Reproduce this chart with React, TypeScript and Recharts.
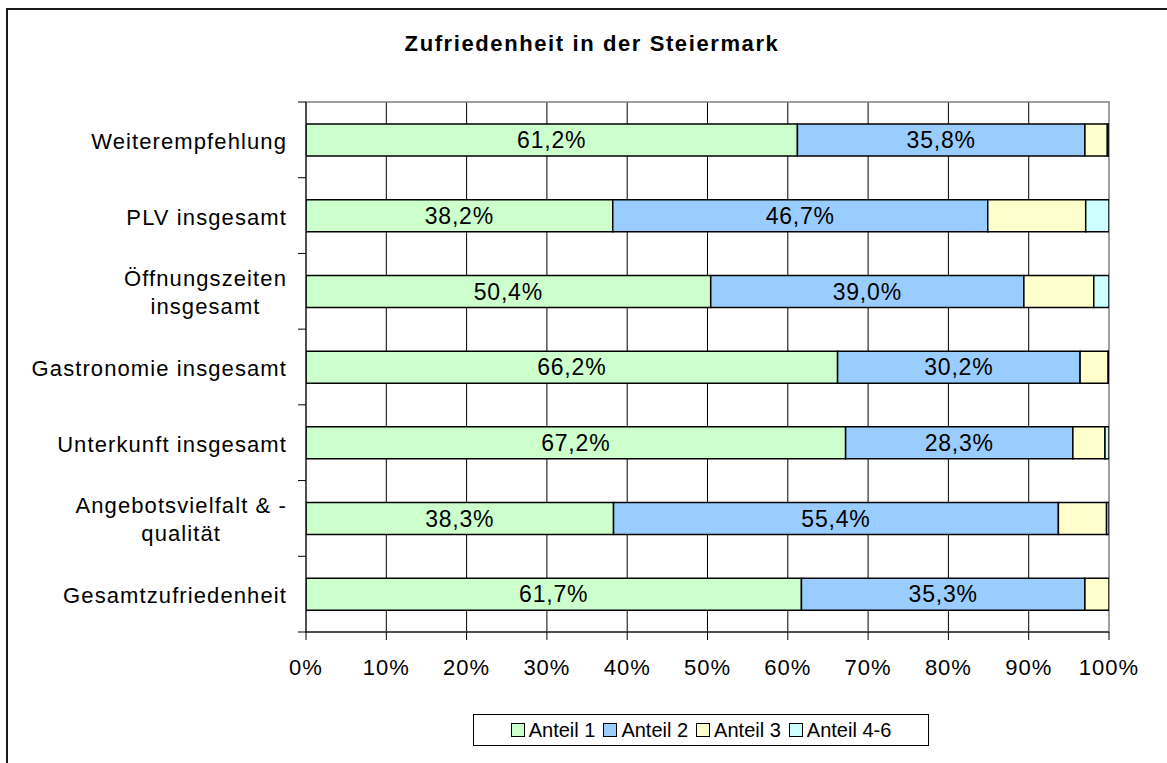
import { Bar, BarChart, CartesianGrid, LabelList, ReferenceArea, XAxis, YAxis } from 'recharts';

const categories = [
  'Weiterempfehlung',
  'PLV insgesamt',
  'Öffnungszeiten\ninsgesamt',
  'Gastronomie insgesamt',
  'Unterkunft insgesamt',
  'Angebotsvielfalt & -\nqualität',
  'Gesamtzufriedenheit',
];
const anteil1 = [61.2, 38.2, 50.4, 66.2, 67.2, 38.3, 61.7];
const anteil2 = [35.8, 46.7, 39.0, 30.2, 28.3, 55.4, 35.3];
const anteil3 = [2.8, 12.2, 8.7, 3.5, 4.0, 6.0, 3.0];
const anteil46 = [0.2, 2.9, 1.9, 0.1, 0.5, 0.3, 0.0];
const xTicks = [0, 10, 20, 30, 40, 50, 60, 70, 80, 90, 100];

const seriesNames = ['Anteil 1', 'Anteil 2', 'Anteil 3', 'Anteil 4-6'];
const seriesColors = ['#ccffcc', '#99ccff', '#ffffcc', '#ccffff'];

const data = categories.map((name, i) => ({
  name,
  a1: anteil1[i],
  a2: anteil2[i],
  a3: anteil3[i],
  a4: anteil46[i],
}));

const FONT = '"Liberation Sans", Arial, sans-serif';
const W = 1167;
const H = 763;
const TOP = 102;
const BOTTOM_AXIS = 632;
const AXIS_X = 306;
const BAND = (BOTTOM_AXIS - TOP) / categories.length;

const pct = (v: number) => v.toFixed(1).replace('.', ',') + '%';

function CategoryTick(props: any) {
  const { y, payload, index } = props;
  const lines = String(payload.value).split('\n');
  return (
    <g>
      <line x1={AXIS_X - 8} x2={AXIS_X} y1={y - BAND / 2} y2={y - BAND / 2} stroke="#000" />
      {index === categories.length - 1 && (
        <line x1={AXIS_X - 8} x2={AXIS_X} y1={y + BAND / 2} y2={y + BAND / 2} stroke="#000" />
      )}
      <foreignObject x={0} y={y - 33} width={287} height={70}>
        <div
          style={{
            height: 70,
            display: 'flex',
            alignItems: 'center',
            justifyContent: 'flex-end',
            fontFamily: FONT,
            fontSize: 22,
            letterSpacing: 1.1,
            color: '#000',
          }}
        >
          <div style={{ textAlign: 'center', lineHeight: '28px', whiteSpace: 'nowrap' }}>
            {lines.map((l, i) => (
              <div key={i}>{l}</div>
            ))}
          </div>
        </div>
      </foreignObject>
    </g>
  );
}

export default function App() {
  return (
    <div style={{ position: 'absolute', left: 0, top: 0, width: W, height: H, overflow: 'hidden', background: '#fff', fontFamily: FONT }}>
      <div style={{ position: 'absolute', left: 6, top: 8, width: W + 20, height: H + 20, border: '2px solid #1a1a1a' }} />
      <div
        style={{
          position: 'absolute',
          left: 0,
          width: 1184,
          top: 30,
          textAlign: 'center',
          fontSize: 22,
          fontWeight: 'bold',
          letterSpacing: 1.6,
          lineHeight: '28px',
        }}
      >
        Zufriedenheit in der Steiermark
      </div>
      <div style={{ position: 'absolute', left: 0, top: 0 }}>
        <BarChart
          width={W}
          height={H}
          data={data}
          layout="vertical"
          margin={{ top: TOP, right: W - 1109, bottom: H - BOTTOM_AXIS - 40, left: 0 }}
          barSize={32}
        >
          <ReferenceArea x1={0} x2={100} fill="none" stroke="#808080" strokeWidth={1.5} ifOverflow="visible" />
          <CartesianGrid vertical horizontal={false} stroke="#000" strokeWidth={1} verticalValues={[10, 20, 30, 40, 50, 60, 70, 80, 90]} />
          <XAxis
            type="number"
            domain={[0, 100]}
            ticks={xTicks}
            tickFormatter={(v: number) => v + '%'}
            axisLine={{ stroke: '#000', strokeWidth: 1 }}
            tickLine={{ stroke: '#000' }}
            tickSize={8}
            tickMargin={19}
            height={40}
            tick={{ fill: '#000', fontSize: 22, fontFamily: FONT, letterSpacing: 1 }}
            allowDataOverflow
          />
          <YAxis
            type="category"
            dataKey="name"
            width={AXIS_X}
            axisLine={{ stroke: '#000', strokeWidth: 1 }}
            tickLine={false}
            tick={<CategoryTick />}
            interval={0}
          />
          <Bar dataKey="a1" stackId="s" fill={seriesColors[0]} stroke="#000" strokeWidth={1.5} isAnimationActive={false}>
            <LabelList dataKey="a1" position="center" formatter={(v: any) => pct(Number(v))} fill="#000" fontSize={23} fontFamily={FONT} letterSpacing={0.8} />
          </Bar>
          <Bar dataKey="a2" stackId="s" fill={seriesColors[1]} stroke="#000" strokeWidth={1.5} isAnimationActive={false}>
            <LabelList dataKey="a2" position="center" formatter={(v: any) => pct(Number(v))} fill="#000" fontSize={23} fontFamily={FONT} letterSpacing={0.8} />
          </Bar>
          <Bar dataKey="a3" stackId="s" fill={seriesColors[2]} stroke="#000" strokeWidth={1.5} isAnimationActive={false} />
          <Bar dataKey="a4" stackId="s" fill={seriesColors[3]} stroke="#000" strokeWidth={1.5} isAnimationActive={false} />
        </BarChart>
      </div>
      <div
        style={{
          position: 'absolute',
          left: 473,
          top: 714,
          width: 456,
          height: 32,
          boxSizing: 'border-box',
          border: '1px solid #000',
          display: 'flex',
          alignItems: 'center',
          justifyContent: 'center',
          gap: 8,
          fontSize: 20,
        }}
      >
        {seriesNames.map((n, i) => (
          <div key={n} style={{ display: 'flex', alignItems: 'center' }}>
            <span style={{ width: 12, height: 12, border: '1px solid #000', background: seriesColors[i], marginRight: 4, display: 'inline-block' }} />
            <span>{n}</span>
          </div>
        ))}
      </div>
    </div>
  );
}
